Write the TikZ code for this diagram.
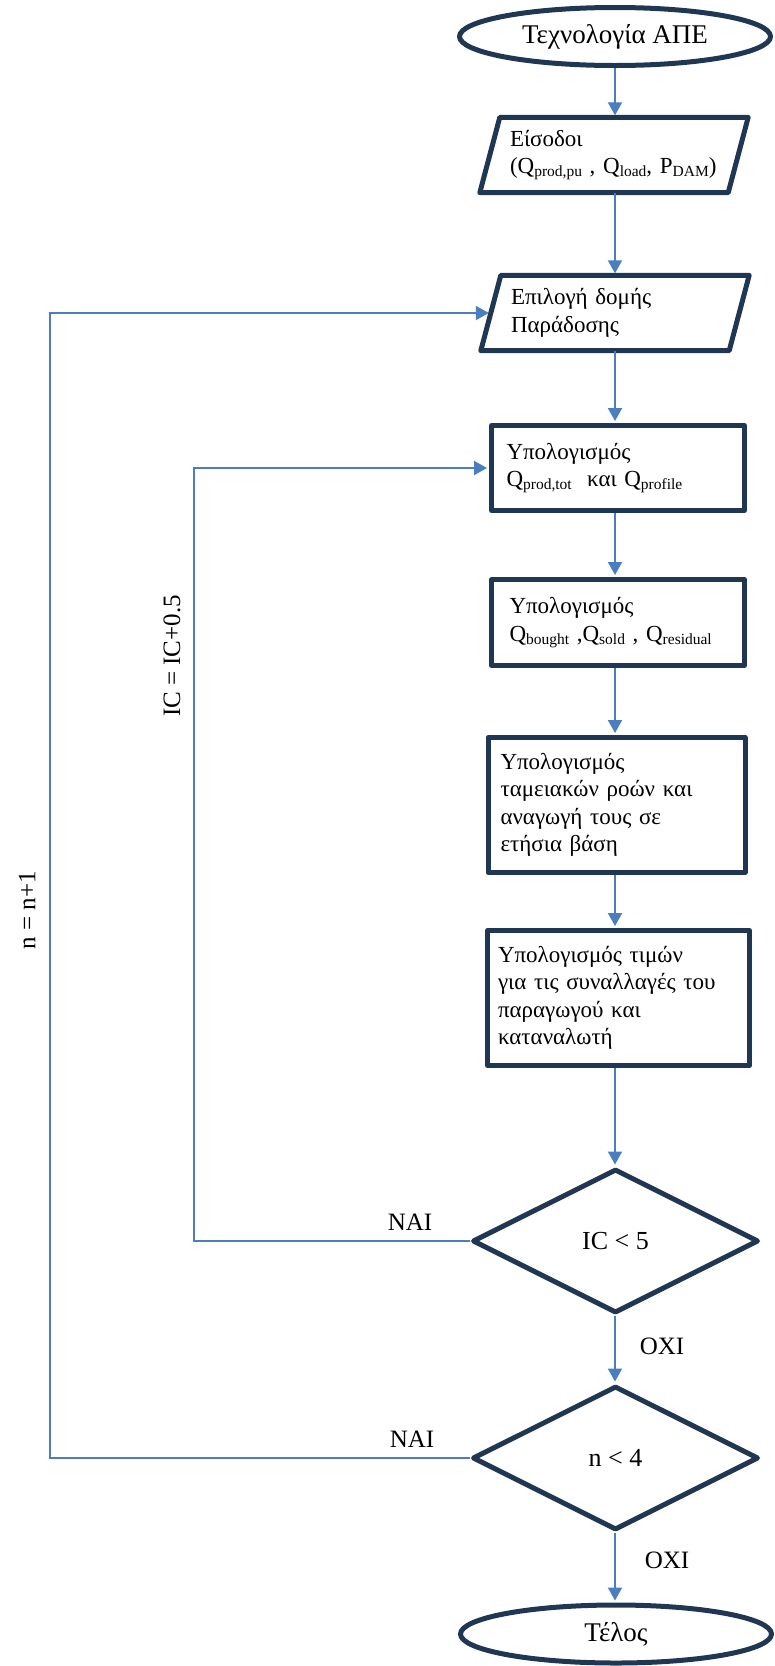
\documentclass[tikz,border=0pt]{standalone}
\usepackage{fontspec}
\setmainfont{Liberation Serif}
\usetikzlibrary{shapes.geometric,arrows.meta,calc}
\definecolor{boxline}{RGB}{32,55,84}
\definecolor{flowline}{RGB}{74,126,193}
% lowered, smaller index text in the formulas
\newcommand\lowsub[1]{\raisebox{-0.14em}{\fontsize{15.5}{16}\selectfont #1}}

\begin{document}
\begin{tikzpicture}[x=1pt,y=-1pt,
  every node/.style={font=\fontsize{23}{27.5}\selectfont, text=black},
  outline/.style={draw=boxline, line width=5pt, line join=round},
  terminal/.style={outline, ellipse, inner sep=0pt, minimum width=311pt, minimum height=58pt,
    font=\fontsize{27}{30}\selectfont},
  procbox/.style={outline, rectangle, align=left, inner ysep=0pt},
  iobox/.style={rectangle, align=left, inner ysep=0pt, minimum width=248pt, minimum height=75pt, inner xsep=20pt, text width=208pt},
  decision/.style={outline, diamond, inner sep=0pt, minimum width=286pt, minimum height=144pt,
    font=\fontsize{26}{30}\selectfont},
  flow/.style={draw=flowline, line width=2pt, -{Triangle[length=13pt,width=14pt]}, shorten >=2pt},
  lbl/.style={inner sep=0pt, font=\fontsize{25}{30}\selectfont},
]
\useasboundingbox (0,0) rectangle (775,1666);

% vertical axis of the main flow
\coordinate (axis) at (615,0);

% terminals
\node[terminal] (start) at (615,36.5) {Τεχνολογία ΑΠΕ};
\node[terminal] (finish) at (616,1634) {Τέλος};

% input / output blocks (outline drawn below as parallelograms)
\node[iobox] (p1) at (614,155) {Είσοδοι\\\mbox{(Q\lowsub{prod,pu} , Q\lowsub{load}, P\lowsub{DAM})}};
\node[iobox] (p2) at (615,313) {Επιλογή δομής\\Παράδοσης};
\foreach \p in {p1,p2}
  \draw[outline] ($(\p.north west)+(10,0)$) -- ($(\p.north east)+(10,0)$)
    -- ($(\p.south east)+(-10,0)$) -- ($(\p.south west)+(-10,0)$) -- cycle;

% processing steps
\node[procbox, minimum width=253pt, minimum height=85pt, inner xsep=15pt, text width=223pt] (r1) at (618,468)
  {Υπολογισμός\\\mbox{Q\lowsub{prod,tot}\ \ και Q\lowsub{profile}}};
\node[procbox, minimum width=253pt, minimum height=86pt, inner xsep=18pt, text width=217pt] (r2) at (618,622.5)
  {Υπολογισμός\\\mbox{Q\lowsub{bought} ,Q\lowsub{sold} , Q\lowsub{residual}}};
\node[procbox, minimum width=257pt, minimum height=135pt, inner xsep=12.5pt, text width=232pt] (r3) at (616.5,805)
  {Υπολογισμός\\ταμειακών ροών και\\αναγωγή τους σε\\ετήσια βάση};
\node[procbox, minimum width=262pt, minimum height=135pt, inner xsep=10.5pt, text width=241pt] (r4) at (618.5,998)
  {Υπολογισμός τιμών\\\mbox{για τις συναλλαγές του}\\παραγωγού και\\καταναλωτή};

% decisions
\node[decision] (d1) at (615.5,1241) {IC < 5};
\node[decision] (d2) at (615.5,1458) {n < 4};

% main flow
\draw[flow] (start.south -| axis) -- (p1.north -| axis);
\draw[flow] (p1.south -| axis) -- (p2.north -| axis);
\draw[flow] (p2.south -| axis) -- (r1.north -| axis);
\draw[flow] (r1.south -| axis) -- (r2.north -| axis);
\draw[flow] (r2.south -| axis) -- (r3.north -| axis);
\draw[flow] (r3.south -| axis) -- (r4.north -| axis);
\draw[flow] (r4.south -| axis) -- (d1.north -| axis);
\draw[flow] (d1.south -| axis) -- (d2.north -| axis);
\draw[flow] (d2.south -| axis) -- (finish.north -| axis);

% feedback loops
\coordinate (loopA) at (194,0);
\coordinate (loopB) at (50,0);
\draw[flow] (d1.west) -- (d1.west -| loopA) |- (r1.west);
\draw[flow] (d2.west) -- (d2.west -| loopB) |- (p2.west);

% branch labels
\node[lbl] (yes1) at (410,1222) {ΝΑΙ};
\node[lbl] (yes2) at (412,1439) {ΝΑΙ};
\node[lbl] (no1) at (662,1346) {ΟΧΙ};
\node[lbl] (no2) at (667,1560) {ΟΧΙ};
\node[lbl, rotate=90] (incIC) at (172,656) {IC = IC+0.5};
\node[lbl, rotate=90] (incN) at (27,910) {n = n+1};
\end{tikzpicture}
\end{document}
